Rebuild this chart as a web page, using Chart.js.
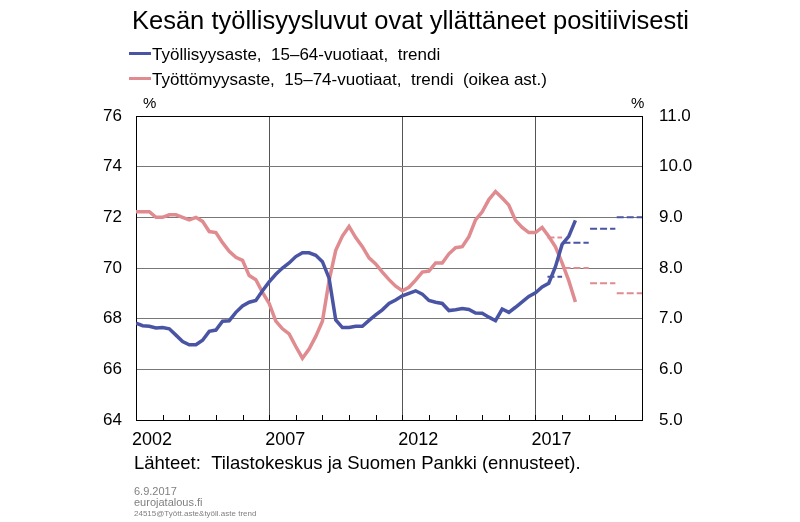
<!DOCTYPE html>
<html><head><meta charset="utf-8">
<script src="https://cdn.jsdelivr.net/npm/chart.js@4/dist/chart.umd.min.js"></script>
<style>html,body{margin:0;padding:0;background:#fff;}#wrap{position:relative;width:800px;height:522px;}</style>
</head><body><div id="wrap"><canvas id="c" width="800" height="522"></canvas></div>
<script>
const quarters = [
 '2002Q1','2002Q2','2002Q3','2002Q4','2003Q1','2003Q2','2003Q3','2003Q4',
 '2004Q1','2004Q2','2004Q3','2004Q4','2005Q1','2005Q2','2005Q3','2005Q4',
 '2006Q1','2006Q2','2006Q3','2006Q4','2007Q1','2007Q2','2007Q3','2007Q4',
 '2008Q1','2008Q2','2008Q3','2008Q4','2009Q1','2009Q2','2009Q3','2009Q4',
 '2010Q1','2010Q2','2010Q3','2010Q4','2011Q1','2011Q2','2011Q3','2011Q4',
 '2012Q1','2012Q2','2012Q3','2012Q4','2013Q1','2013Q2','2013Q3','2013Q4',
 '2014Q1','2014Q2','2014Q3','2014Q4','2015Q1','2015Q2','2015Q3','2015Q4',
 '2016Q1','2016Q2','2016Q3','2016Q4','2017Q1','2017Q2','2017Q3','2017Q4',
 '2018Q1','2018Q2','2018Q3'
];
const employment = [
 67.82,67.72,67.70,67.63,67.65,67.60,67.35,67.10,
 66.97,66.97,67.15,67.50,67.55,67.90,67.92,68.25,
 68.50,68.65,68.72,69.10,69.45,69.75,70.00,70.20,
 70.45,70.60,70.60,70.50,70.25,69.60,67.95,67.65,
 67.65,67.70,67.70,67.93,68.15,68.35,68.60,68.74,
 68.90,69.00,69.10,68.97,68.72,68.65,68.60,68.32,
 68.35,68.40,68.36,68.22,68.21,68.06,67.92,68.38,
 68.25,68.45,68.66,68.88,69.02,69.25,69.40,70.05,
 70.93,71.25,71.88
];
const unemployment = [
 9.11,9.11,9.11,9.00,9.00,9.05,9.05,9.00,
 8.95,9.00,8.92,8.72,8.70,8.50,8.33,8.21,
 8.15,7.85,7.77,7.52,7.30,6.95,6.80,6.70,
 6.45,6.22,6.40,6.65,6.95,7.75,8.35,8.63,
 8.82,8.60,8.42,8.20,8.08,7.92,7.77,7.64,
 7.55,7.62,7.76,7.92,7.94,8.10,8.10,8.28,
 8.40,8.42,8.62,8.95,9.11,9.35,9.51,9.38,
 9.24,8.94,8.80,8.70,8.70,8.80,8.62,8.42,
 8.10,7.75,7.33
];
// forecast periods (decimal years) and values
const forecastStart = [2017.45, 2018.05, 2019.05, 2020.05];
const forecastEnd   = [2018.00, 2019.00, 2020.00, 2021.00];
const forecastEmployment   = [69.65, 71.0, 71.55, 72.0];
const forecastUnemployment = [8.6, 8.0, 7.7, 7.5];
const xLabelYears = [2002, 2007, 2012, 2017];
const leftTicks = [64, 66, 68, 70, 72, 74, 76];
const rightTicks = [5, 6, 7, 8, 9, 10, 11];

const BLUE = '#4a54a4', PINK = '#e08b8f';
const FONT = '"Liberation Sans", Arial, sans-serif';
const toYear = q => +q.slice(0,4) + (+q.slice(5)-1)/4;

const datasets = [
 {label:'Työllisyysaste,  15–64-vuotiaat,  trendi', data: quarters.map((q,i)=>({x:toYear(q),y:employment[i]})),
  borderColor:BLUE, borderWidth:3.5, pointRadius:0, yAxisID:'y', tension:0},
 {label:'Työttömyysaste,  15–74-vuotiaat,  trendi  (oikea ast.)', data: quarters.map((q,i)=>({x:toYear(q),y:unemployment[i]})),
  borderColor:PINK, borderWidth:3.5, pointRadius:0, yAxisID:'y1', tension:0}
];
forecastStart.forEach((s,i)=>{
 datasets.push({data:[{x:s,y:forecastEmployment[i]},{x:forecastEnd[i],y:forecastEmployment[i]}],
  borderColor:BLUE, borderWidth:2, borderDash:[7,3], pointRadius:0, yAxisID:'y'});
 datasets.push({data:[{x:s,y:forecastUnemployment[i]},{x:forecastEnd[i],y:forecastUnemployment[i]}],
  borderColor:PINK, borderWidth:2, borderDash:[7,3], pointRadius:0, yAxisID:'y1'});
});

const decor = {
 id:'decor',
 afterDraw(chart){
  const ctx = chart.ctx, xs = chart.scales.x, a = chart.chartArea;
  ctx.save();
  // inner year ticks
  ctx.strokeStyle = '#000'; ctx.lineWidth = 1;
  for (let yr = 2003; yr < 2021; yr++){
   const px = Math.round(xs.getPixelForValue(yr)) + 0.5;
   ctx.beginPath(); ctx.moveTo(px, a.bottom); ctx.lineTo(px, a.bottom - 5); ctx.stroke();
  }
  // title
  ctx.fillStyle = '#000'; ctx.textBaseline = 'alphabetic'; ctx.textAlign = 'left';
  ctx.font = '25.5px ' + FONT;
  ctx.fillText('Kesän työllisyysluvut ovat yllättäneet positiivisesti', 132, 29);
  // legend
  ctx.font = '17px ' + FONT;
  [[BLUE, datasets[0].label, 53.5, 59.5],[PINK, datasets[1].label, 78.5, 84.5]].forEach(([c,t,ly,ty])=>{
   ctx.strokeStyle = c; ctx.lineWidth = 3;
   ctx.beginPath(); ctx.moveTo(129, ly); ctx.lineTo(151, ly); ctx.stroke();
   ctx.fillStyle = '#000'; ctx.fillText(t, 152, ty);
  });
  // % units
  ctx.font = '15px ' + FONT;
  ctx.fillText('%', 143, 108);
  ctx.fillText('%', 631, 108);
  // source
  ctx.font = '18.5px ' + FONT;
  ctx.fillText('Lähteet:  Tilastokeskus ja Suomen Pankki (ennusteet).', 134, 469);
  // footer
  ctx.fillStyle = '#808080';
  ctx.font = '11px ' + FONT;
  ctx.fillText('6.9.2017', 134, 495);
  ctx.fillText('eurojatalous.fi', 134, 506);
  ctx.font = '8px ' + FONT;
  ctx.fillText('24515@Tyött.aste&työll.aste trend', 134, 516);
  ctx.restore();
 }
};

new Chart(document.getElementById('c'), {
 type:'line',
 data:{datasets},
 options:{
  responsive:false, animation:false, devicePixelRatio:1,
  layout:{padding:{top:116,left:0,right:0,bottom:0}},
  plugins:{legend:{display:false}, title:{display:false}, tooltip:{enabled:false}},
  scales:{
   x:{type:'linear', min:2002, max:2021, position:'bottom',
    afterFit:s=>{s.height = 102;},
    afterBuildTicks:s=>{const t=[];for(let y=2002;y<=2021;y++)t.push({value:y});s.ticks=t;},
    ticks:{autoSkip:false, maxRotation:0, labelOffset:16, padding:9, color:'#000',
     font:{family:FONT, size:18},
     callback:v=> xLabelYears.includes(v) ? String(v) : ''},
    grid:{drawTicks:false, lineWidth:1, color:c=> (c.tick && xLabelYears.slice(1).includes(c.tick.value)) ? '#555' : 'rgba(0,0,0,0)'},
    border:{display:true, color:'#000', width:1}},
   y:{position:'left', min:64, max:76,
    afterFit:s=>{s.width = 136;},
    afterBuildTicks:s=>{s.ticks = leftTicks.map(v=>({value:v}));},
    ticks:{padding:14, color:'#000', font:{family:FONT, size:17}},
    grid:{drawTicks:false, lineWidth:1, color:c=> (c.tick && c.tick.value===76) ? '#000' : '#777'},
    border:{display:true, color:'#000', width:1}},
   y1:{position:'right', min:5, max:11,
    afterFit:s=>{s.width = 158;},
    afterBuildTicks:s=>{s.ticks = rightTicks.map(v=>({value:v}));},
    ticks:{padding:17, color:'#000', font:{family:FONT, size:17}, callback:v=>v.toFixed(1)},
    grid:{drawOnChartArea:false, drawTicks:false},
    border:{display:true, color:'#000', width:1}}
  }
 },
 plugins:[decor]
});
</script></body></html>
